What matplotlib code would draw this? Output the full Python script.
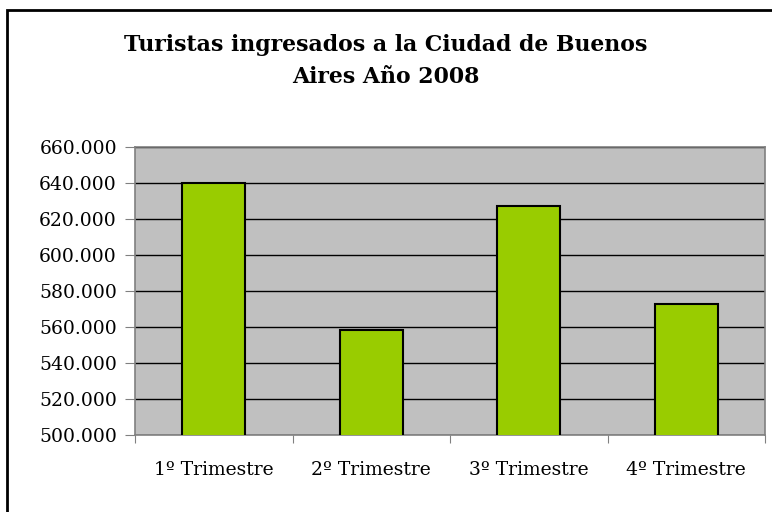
import matplotlib
matplotlib.use("Agg")
import matplotlib.pyplot as plt
from matplotlib.ticker import FuncFormatter, MultipleLocator
from matplotlib.patches import Rectangle

# Turistas por trimestre, 2008
trimestres = ["1º Trimestre", "2º Trimestre", "3º Trimestre", "4º Trimestre"]
turistas = [640000, 558200, 627000, 572800]

titulo = "Turistas ingresados a la Ciudad de Buenos\nAires Año 2008"

plt.rcParams["font.family"] = ["DejaVu Serif"]

fig = plt.figure(figsize=(7.72, 5.12), dpi=100)

# chart frame, cut by the image edge on the right and bottom
fig.patches.append(Rectangle((7 / 772, -0.1), 1.2, 1 - 10 / 512 + 0.1,
                             transform=fig.transFigure, fill=False,
                             edgecolor="black", linewidth=2))

ax = fig.add_axes([135 / 772, 1 - 435 / 512, 630 / 772, 288 / 512])
ax.set_facecolor("#C0C0C0")

x = list(range(len(trimestres)))
ax.bar(x, turistas, width=0.4, color="#99CC00", edgecolor="black", linewidth=1.5, zorder=3)

ax.set_xlim(-0.5, len(trimestres) - 0.5)
ax.set_ylim(500000, 660000)
ax.yaxis.set_major_locator(MultipleLocator(20000))
ax.yaxis.set_major_formatter(FuncFormatter(lambda v, p: f"{int(v):,}".replace(",", ".")))
ax.grid(axis="y", color="black", linewidth=1, zorder=1)

ax.set_xticks([i - 0.5 for i in range(len(trimestres) + 1)], minor=False)
ax.set_xticklabels([])
ax.set_xticks(x, minor=True)
ax.set_xticklabels(trimestres, minor=True, fontsize=13.5)
ax.tick_params(axis="x", which="minor", length=0, pad=19)
ax.tick_params(axis="x", which="major", length=6, color="#808080")
ax.tick_params(axis="y", length=7, color="#808080", labelsize=13.5, pad=6)

for s in ax.spines.values():
    s.set_color("#808080")
    s.set_linewidth(1.2)

fig.text(0.5, 1 - 61 / 512, titulo, ha="center", va="center",
         fontsize=15.8, fontweight="bold", linespacing=1.6)

fig.savefig("out.png", dpi=100)
